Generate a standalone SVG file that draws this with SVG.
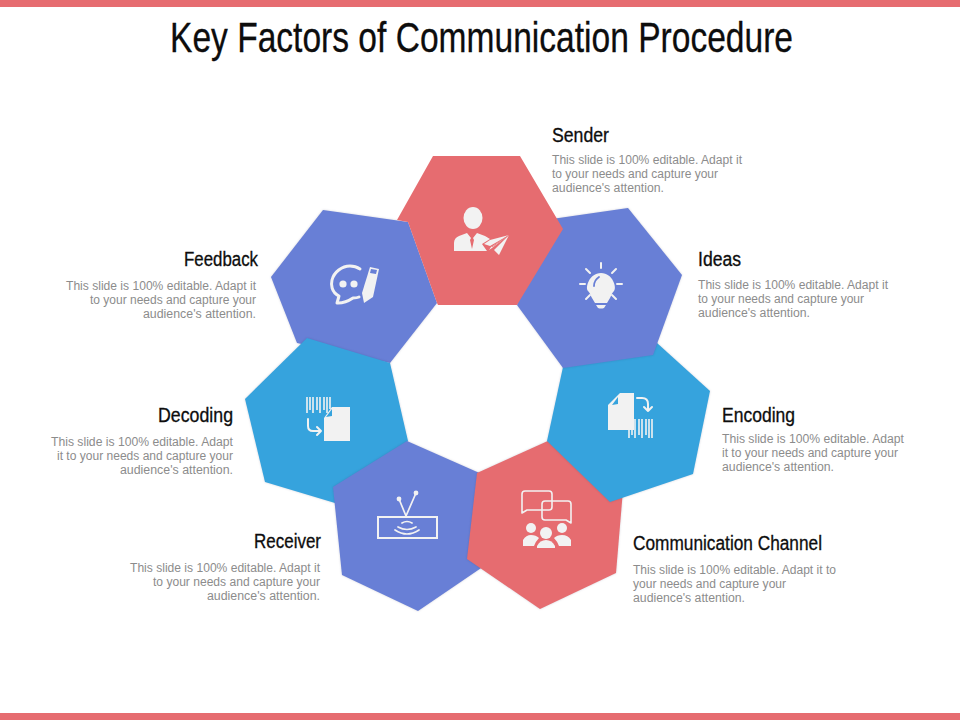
<svg xmlns="http://www.w3.org/2000/svg" width="960" height="720" viewBox="0 0 960 720">
<style>
text{font-family:"Liberation Sans",Arial,sans-serif}
.h{font-size:19.5px;fill:#0d0d0d;stroke:#0d0d0d;stroke-width:.3}
.b{font-size:12px;fill:#8c8c8c}
.e{text-anchor:end}
.red{fill:#e66c70}.blu{fill:#687fd6}.sky{fill:#36a3dd}
.hex{filter:drop-shadow(0 0 1px rgba(40,40,80,.2))}
.i{fill:#f2f2f2}
.s{fill:none;stroke:#f2f2f2;stroke-width:2;stroke-linecap:round;stroke-linejoin:round}
</style>
<rect width="960" height="7" class="red"/>
<rect y="713" width="960" height="7" class="red"/>
<text id="title" x="170" y="52" font-size="42" fill="#0d0d0d" stroke="#0d0d0d" stroke-width=".3" textLength="623" lengthAdjust="spacingAndGlyphs">Key Factors of Communication Procedure</text>

<g id="node-feedback">
<polygon class="blu hex" points="323,210 408,222 437,303 390,363 297,343 271,277"/>
<path class="s" style="stroke-width:3" d="M337,303 L339,296 C331,292 331,284 332,280 C334,272 342,266 350,266 C354,266 357,267 360,269 M338,303 C344,303 350,300 353,298 C355,298 357,298 359,297"/>
<circle class="i" cx="343" cy="284" r="3.6"/><circle class="i" cx="354" cy="284" r="3.6"/>
<polygon class="i" points="370,267 379,269 373,297 364,303 362,293"/>
<polygon fill="#687fd6" points="371,269 377,270 376,274 370,273"/>
<text class="h" x="258" y="266" text-anchor="end" textLength="74" lengthAdjust="spacingAndGlyphs">Feedback</text>
<text class="b e" x="256" y="290" textLength="190" lengthAdjust="spacingAndGlyphs">This slide is 100% editable. Adapt it</text>
<text class="b e" x="256" y="304" textLength="166" lengthAdjust="spacingAndGlyphs">to your needs and capture your</text>
<text class="b e" x="256" y="318" textLength="113" lengthAdjust="spacingAndGlyphs">audience's attention.</text>
</g>

<g id="node-decoding">
<polygon class="sky hex" points="307,338 390,363 408,441 345,506 265,482 245,399"/>
<path class="s" style="stroke-width:1.6;stroke-linecap:butt" d="M307,397V413M310,397V410M313,397V413M317,397V410M320,397V413M324,397V410M327,397V413M330,397V409"/>
<polygon class="i" points="332,407 350,407 350,441 324,441 324,418"/>
<polygon fill="#36a3dd" points="332,409 332,416 326,417"/>
<path class="s" d="M308,419V426Q308,431 313,431H321M317,427L321,431L317,435"/>
<text class="h" x="233" y="422" text-anchor="end" textLength="75" lengthAdjust="spacingAndGlyphs">Decoding</text>
<text class="b e" x="233" y="446" textLength="182" lengthAdjust="spacingAndGlyphs">This slide is 100% editable. Adapt</text>
<text class="b e" x="233" y="460" textLength="176" lengthAdjust="spacingAndGlyphs">it to your needs and capture your</text>
<text class="b e" x="233" y="474" textLength="113" lengthAdjust="spacingAndGlyphs">audience's attention.</text>
</g>

<g id="node-receiver">
<polygon class="blu hex" points="407,441 484,475 490,562 418,611 342,575 333,487"/>
<rect x="378" y="517" width="59" height="21" fill="none" stroke="#f2f2f2" stroke-width="2"/>
<path class="s" d="M406,516L399,499M406,516L416,493M402,523Q407,520 412,523M398,527Q407,532 416,527M395,530Q407,538 419,530" style="stroke-width:1.7"/>
<circle class="i" cx="399" cy="499" r="2.4"/><circle class="i" cx="416" cy="493" r="2.4"/>
<text class="h" x="321" y="548" text-anchor="end" textLength="67" lengthAdjust="spacingAndGlyphs">Receiver</text>
<text class="b e" x="320" y="572" textLength="190" lengthAdjust="spacingAndGlyphs">This slide is 100% editable. Adapt it</text>
<text class="b e" x="320" y="586" textLength="167" lengthAdjust="spacingAndGlyphs">to your needs and capture your</text>
<text class="b e" x="320" y="600" textLength="113" lengthAdjust="spacingAndGlyphs">audience's attention.</text>
</g>

<g id="node-channel">
<polygon class="red hex" points="550,440 624,478 616,573 540,609 467,559 477,473"/>
<path class="s" style="stroke-width:1.6" d="M525,491H549Q552,491 552,494V507Q552,510 549,510H527L522,513V494Q522,491 525,491Z"/>
<path class="s" style="stroke-width:1.6" d="M545,501H568Q571,501 571,504V523L566,520H545Q542,520 542,517V504Q542,501 545,501Z"/>
<circle class="i" cx="531" cy="528" r="5"/><circle class="i" cx="546" cy="533" r="6"/><circle class="i" cx="562" cy="528" r="5"/>
<path class="i" d="M523,546V540Q526,535 531,535Q536,535 539,538Q536,541 534,546Z"/>
<path class="i" d="M537,548V546Q540,540 546,540Q552,540 555,546V548Z"/>
<path class="i" d="M571,546V540Q568,535 562,535Q557,535 554,538Q557,541 559,546Z"/>
<text class="h" x="633" y="550" textLength="189" lengthAdjust="spacingAndGlyphs">Communication Channel</text>
<text class="b" x="633" y="574" textLength="203" lengthAdjust="spacingAndGlyphs">This slide is 100% editable. Adapt it to</text>
<text class="b" x="633" y="588" textLength="153" lengthAdjust="spacingAndGlyphs">your needs and capture your</text>
<text class="b" x="633" y="602" textLength="112" lengthAdjust="spacingAndGlyphs">audience's attention.</text>
</g>

<g id="node-encoding">
<polygon class="sky hex" points="646,333 710,391 693,474 610,502 547,441 563,367"/>
<polygon class="i" points="620,393 634,393 634,430 608,430 608,405"/>
<polygon fill="#36a3dd" points="618,397 618,404 612,405"/>
<path class="s" d="M637,398H642Q648,398 648,404V411M644,407L648,411L652,407"/>
<path class="s" style="stroke-width:1.6;stroke-linecap:butt" d="M629,419V438M632,419V435M635,419V438M639,419V435M642,419V438M646,419V435M649,419V438M652,419V438"/>
<text class="h" x="722" y="422" textLength="73" lengthAdjust="spacingAndGlyphs">Encoding</text>
<text class="b" x="722" y="443" textLength="182" lengthAdjust="spacingAndGlyphs">This slide is 100% editable. Adapt</text>
<text class="b" x="722" y="457" textLength="176" lengthAdjust="spacingAndGlyphs">it to your needs and capture your</text>
<text class="b" x="722" y="471" textLength="112" lengthAdjust="spacingAndGlyphs">audience's attention.</text>
</g>

<g id="node-ideas">
<polygon class="blu hex" points="628,208 682,275 653,355 563,368 517,305 545,220"/>
<path class="i" d="M595,303L592,298C590,294 590,293 588,291C585,288 589,273 601,273C613,273 617,288 614,291C612,293 612,294 610,298L607,303Z"/>
<path class="i" d="M596,305H606L604,308Q601,309 598,308Z"/>
<path d="M594,286C594,282 596,279 599,277" fill="none" stroke="#687fd6" stroke-width="1.8" stroke-linecap="round"/>
<path class="s" d="M601,263V268M586,269L590,273M616,269L612,273M580,284H585M617,284H622M586,299L590,295M616,299L612,295"/>
<text class="h" x="698" y="266" textLength="43" lengthAdjust="spacingAndGlyphs">Ideas</text>
<text class="b" x="698" y="289" textLength="190" lengthAdjust="spacingAndGlyphs">This slide is 100% editable. Adapt it</text>
<text class="b" x="698" y="303" textLength="166" lengthAdjust="spacingAndGlyphs">to your needs and capture your</text>
<text class="b" x="698" y="317" textLength="112" lengthAdjust="spacingAndGlyphs">audience's attention.</text>
</g>

<g id="node-sender">
<polygon class="red" points="433,156 520,156 563,229 517,305 438,305 437,303 408,222 397,220"/>
<ellipse class="i" cx="473" cy="218" rx="9.5" ry="11"/>
<path class="i" d="M454,251V243Q454,238 459,236L467,233L471,238L470,240L472,249L474,240L473,238L477,233L485,236L490,239L482,244L487,251Z"/>
<path class="i" d="M509,235L490,240L484,244L490,246ZM509,235L492,248L489,250L491,247ZM509,235L499,255L494,250Z"/>
<path d="M492,247L509,235" stroke="#e66c70" stroke-width="0.8"/>
<text class="h" x="552" y="142" textLength="57" lengthAdjust="spacingAndGlyphs">Sender</text>
<text class="b" x="552" y="164" textLength="190" lengthAdjust="spacingAndGlyphs">This slide is 100% editable. Adapt it</text>
<text class="b" x="552" y="178" textLength="166" lengthAdjust="spacingAndGlyphs">to your needs and capture your</text>
<text class="b" x="552" y="192" textLength="112" lengthAdjust="spacingAndGlyphs">audience's attention.</text>
</g>
</svg>
